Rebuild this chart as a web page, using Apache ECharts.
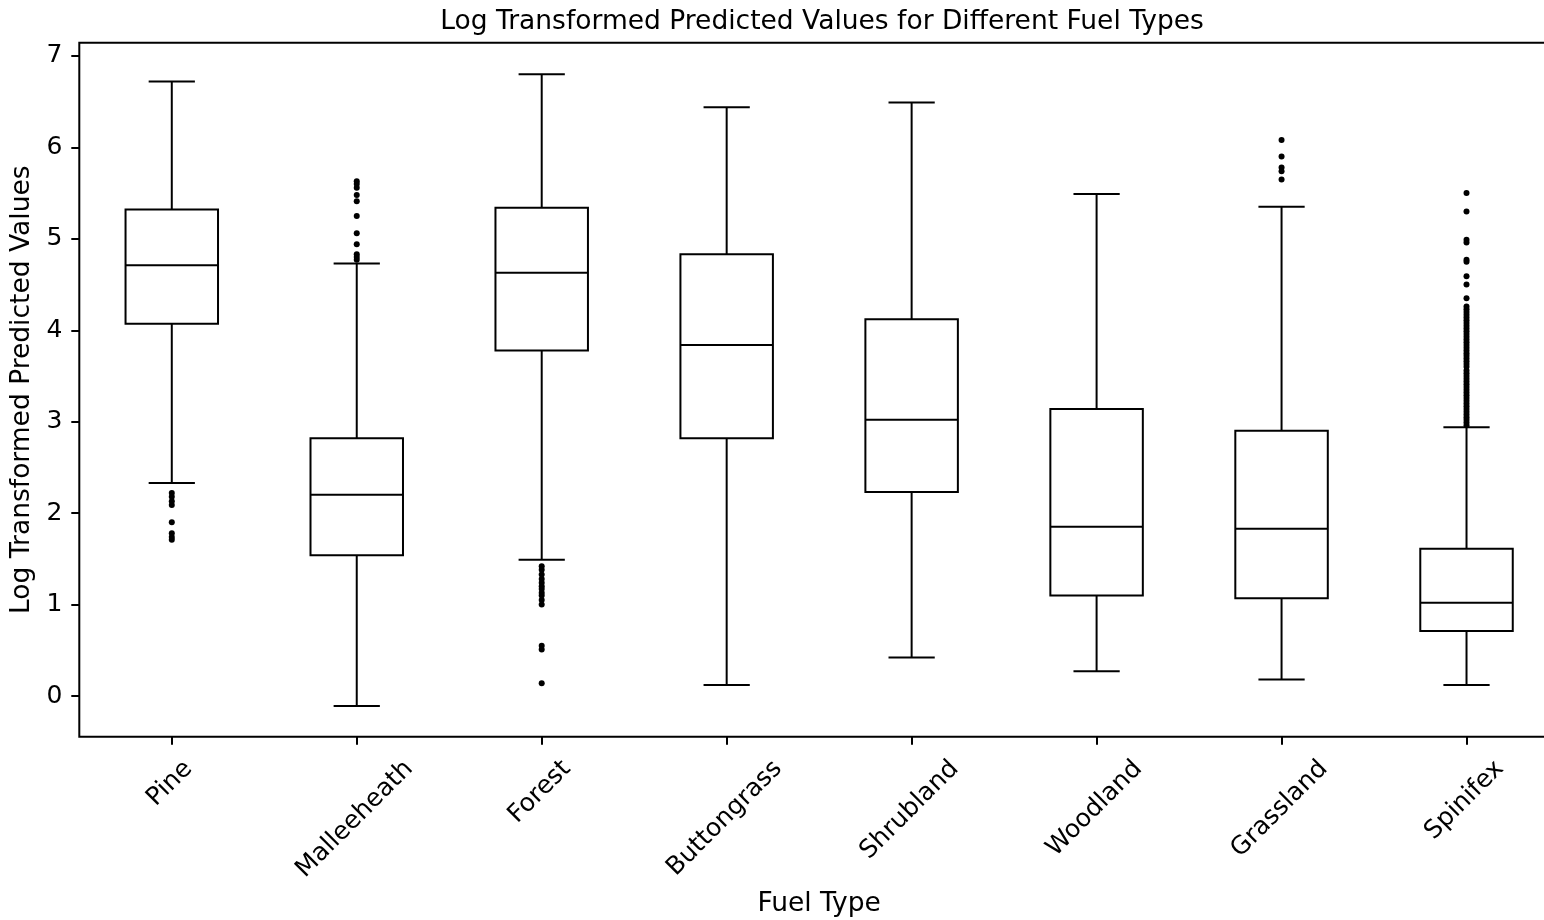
<!DOCTYPE html>
<html>
<head>
<meta charset="utf-8">
<script src="https://cdn.jsdelivr.net/npm/echarts@6/dist/echarts.min.js"></script>
<style>
  html, body { margin: 0; padding: 0; overflow: hidden; background: #fff; }
  #chart { width: 1559px; height: 920px; }
</style>
</head>
<body>
<div id="chart"></div>
<script>
// Fuel types and five-number summaries of the log-transformed predictions
const fuelTypes = ['Pine', 'Malleeheath', 'Forest', 'Buttongrass', 'Shrubland', 'Woodland', 'Grassland', 'Spinifex'];
const whiskerLow  = [2.33, -0.11, 1.49, 0.12, 0.42, 0.27, 0.18, 0.12];
const quartile1   = [4.07,  1.54, 3.78, 2.82, 2.23, 1.10, 1.07, 0.71];
const medians     = [4.71,  2.20, 4.63, 3.84, 3.02, 1.85, 1.83, 1.02];
const quartile3   = [5.32,  2.82, 5.34, 4.83, 4.12, 3.14, 2.90, 1.61];
const whiskerHigh = [6.72,  4.73, 6.80, 6.44, 6.49, 5.49, 5.35, 2.94];

// Points beyond the whiskers
const pineOutliers = [2.22, 2.18, 2.13, 2.09, 1.90, 1.78, 1.74, 1.71];
const malleeheathOutliers = [5.63, 5.60, 5.56, 5.48, 5.41, 5.25, 5.06, 4.94, 4.83, 4.80, 4.77];
const forestOutliers = [1.42, 1.38, 1.33, 1.28, 1.24, 1.20, 1.17, 1.13, 1.10, 1.05, 1.00, 0.55, 0.51, 0.14];
const buttongrassOutliers = [];
const shrublandOutliers = [];
const woodlandOutliers = [];
const grasslandOutliers = [6.08, 5.90, 5.78, 5.74, 5.65];
const spinifexOutliers = [5.50, 5.30, 4.99, 4.96, 4.77, 4.75, 4.59, 4.50, 4.35, 4.26,
  4.23, 4.20, 4.17, 4.14, 4.11, 4.08, 4.05, 4.02, 3.99, 3.96, 3.93, 3.90, 3.87, 3.84,
  3.81, 3.78, 3.75, 3.72, 3.69, 3.66, 3.63, 3.60, 3.56, 3.53, 3.50, 3.47, 3.44, 3.41,
  3.38, 3.35, 3.32, 3.29, 3.26, 3.23, 3.20, 3.17, 3.14, 3.11, 3.08, 3.05, 3.02, 2.99, 2.96];

const yTicks = [0, 1, 2, 3, 4, 5, 6, 7];
const yMin = -0.445;
const yMax = 7.145;

const outlierGroups = [pineOutliers, malleeheathOutliers, forestOutliers, buttongrassOutliers,
  shrublandOutliers, woodlandOutliers, grasslandOutliers, spinifexOutliers];

const FONT = '"DejaVu Sans", "Liberation Sans", sans-serif';
const TICK_FONT = 25;
const NAME_FONT = 26.5;
const INK = '#000';

const chart = echarts.init(document.getElementById('chart'), null, { renderer: 'canvas' });

const boxData = fuelTypes.map((f, i) => [i, whiskerLow[i], quartile1[i], medians[i], quartile3[i], whiskerHigh[i]]);
const outlierData = [];
outlierGroups.forEach((vals, i) => vals.forEach(v => outlierData.push([i, v])));

function renderBox(params, api) {
  const idx = api.value(0);
  const lo = api.coord([idx, api.value(1)]);
  const q1 = api.coord([idx, api.value(2)]);
  const md = api.coord([idx, api.value(3)]);
  const q3 = api.coord([idx, api.value(4)]);
  const hi = api.coord([idx, api.value(5)]);
  const band = api.size([1, 0])[0];
  const bw = band * 0.5;
  const cw = band * 0.25;
  const x = lo[0];
  const ls = { stroke: INK, lineWidth: 2, fill: null };
  return {
    type: 'group',
    children: [
      { type: 'rect', shape: { x: x - bw / 2, y: q3[1], width: bw, height: q1[1] - q3[1] }, style: { stroke: INK, lineWidth: 2, fill: 'none' } },
      { type: 'line', shape: { x1: x - bw / 2, y1: md[1], x2: x + bw / 2, y2: md[1] }, style: ls },
      { type: 'line', shape: { x1: x, y1: q3[1], x2: x, y2: hi[1] }, style: ls },
      { type: 'line', shape: { x1: x, y1: q1[1], x2: x, y2: lo[1] }, style: ls },
      { type: 'line', shape: { x1: x - cw / 2, y1: hi[1], x2: x + cw / 2, y2: hi[1] }, style: ls },
      { type: 'line', shape: { x1: x - cw / 2, y1: lo[1], x2: x + cw / 2, y2: lo[1] }, style: ls }
    ]
  };
}

chart.setOption({
  animation: false,
  backgroundColor: '#fff',
  title: {
    text: 'Log Transformed Predicted Values for Different Fuel Types',
    left: 817,
    top: 4,
    textAlign: 'center',
    textStyle: { fontFamily: FONT, fontSize: NAME_FONT, fontWeight: 'normal', color: INK }
  },
  grid: {
    left: 79.3,
    right: 0,
    top: 42.7,
    bottom: 183.3,
    show: true,
    borderColor: INK,
    borderWidth: 2,
    containLabel: false,
    outerBoundsMode: 'none'
  },
  xAxis: {
    type: 'category',
    data: fuelTypes,
    boundaryGap: true,
    name: 'Fuel Type',
    nameLocation: 'middle',
    nameGap: 154,
    nameTextStyle: { fontFamily: FONT, fontSize: NAME_FONT, color: INK },
    axisLine: { show: false, onZero: false },
    axisTick: { show: true, alignWithLabel: true, length: 8, lineStyle: { color: INK, width: 2 } },
    axisLabel: { show: false },
    splitLine: { show: false }
  },
  yAxis: {
    type: 'value',
    min: yMin,
    max: yMax,
    name: 'Log Transformed Predicted Values',
    nameLocation: 'middle',
    nameGap: 44,
    nameTextStyle: { fontFamily: FONT, fontSize: NAME_FONT, color: INK },
    axisLine: { show: false, onZero: false },
    axisTick: { show: true, length: 8, customValues: yTicks, lineStyle: { color: INK, width: 2 } },
    axisLabel: { show: true, customValues: yTicks, margin: 17, fontFamily: FONT, fontSize: TICK_FONT, color: INK },
    splitLine: { show: false }
  },
  series: [
    {
      type: 'custom',
      name: 'boxes',
      renderItem: renderBox,
      encode: { x: 0, y: [1, 2, 3, 4, 5] },
      data: boxData,
      z: 2
    },
    {
      type: 'scatter',
      name: 'outliers',
      data: outlierData,
      symbol: 'circle',
      symbolSize: 6,
      itemStyle: { color: INK, opacity: 1 },
      z: 3
    }
  ]
});

// Category labels rotated 45°, with each rotated box centred under its tick
const measure = document.createElement('canvas').getContext('2d');
measure.font = TICK_FONT + 'px ' + FONT;
const axisBottom = chart.convertToPixel({ yAxisIndex: 0 }, yMin);
const labelGraphics = fuelTypes.map(name => {
  const x = chart.convertToPixel({ xAxisIndex: 0 }, name);
  const w = measure.measureText(name).width;
  const h = TICK_FONT * 1.164;
  const H = (w + h) / Math.SQRT2;
  return {
    type: 'text',
    x: x - 2,
    y: axisBottom + 18 + H / 2,
    rotation: Math.PI / 4,
    style: {
      text: name,
      fontFamily: FONT,
      fontSize: TICK_FONT,
      fill: INK,
      align: 'center',
      verticalAlign: 'middle'
    }
  };
});
chart.setOption({ graphic: labelGraphics });
</script>
</body>
</html>
